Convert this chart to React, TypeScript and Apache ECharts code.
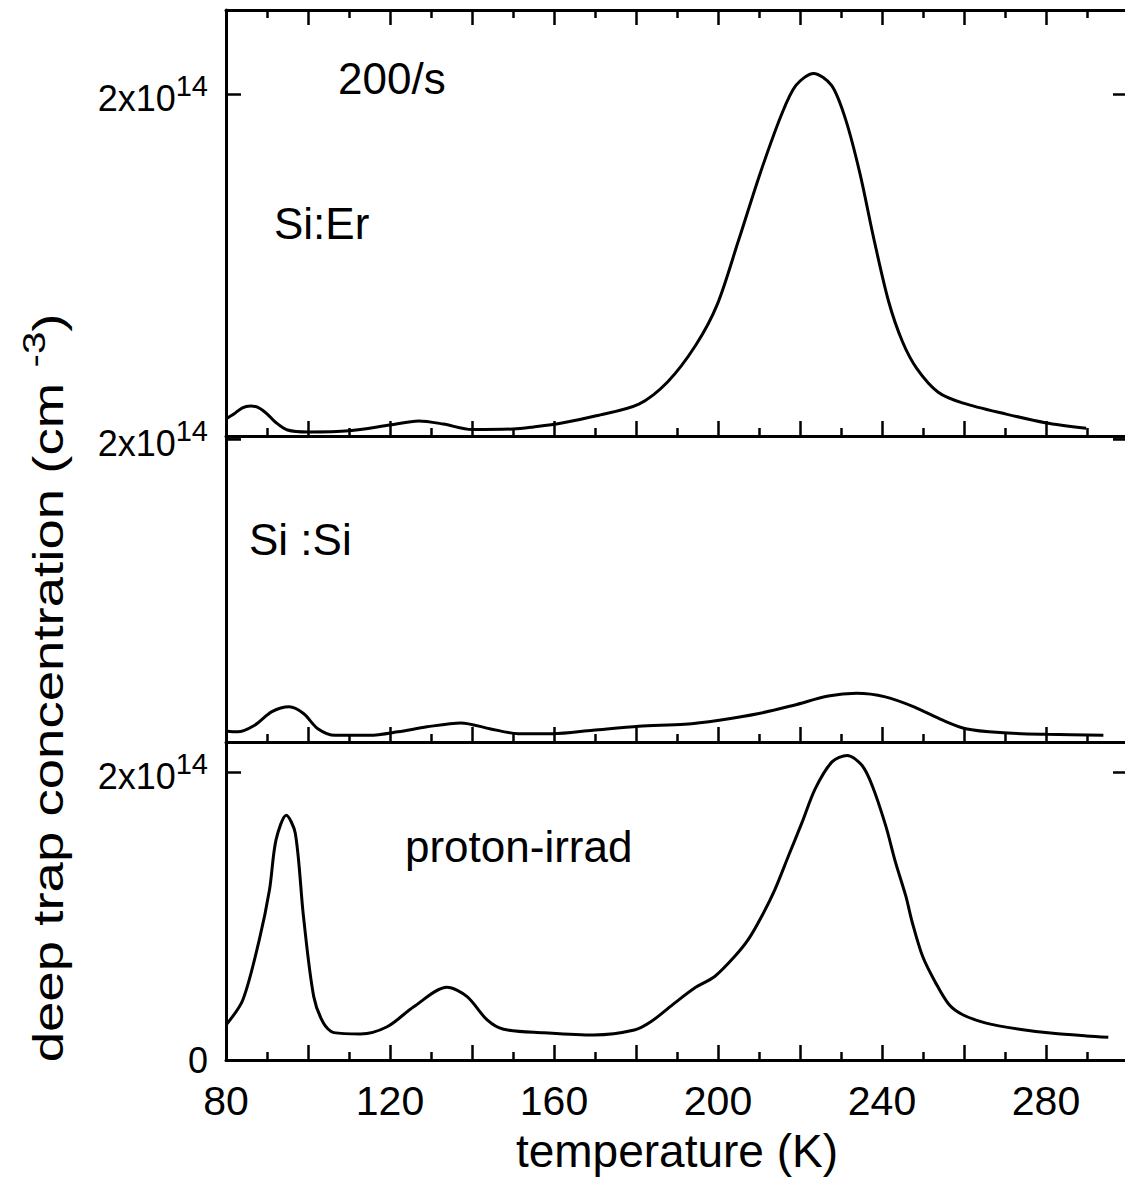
import React, { useEffect, useRef } from 'react';
import * as echarts from 'echarts';

const FONT = '"Liberation Sans", Arial, Helvetica, sans-serif';

// Si:Er panel (units of 1e14 cm^-3, panel-local scale)
const erT = [80, 82, 84, 86, 88, 90, 92, 95, 100, 110, 120, 127, 133, 140, 150, 155, 161.6, 170.3, 180.7, 187.7, 194.6, 199.8, 205, 210.3, 215.5, 219, 223.3, 227.7, 231.1, 234.6, 238.1, 241.6, 245, 248.5, 253.7, 259.8, 270.3, 279.8, 289.8];
const erV = [0.1, 0.13, 0.165, 0.175, 0.165, 0.13, 0.082, 0.035, 0.023, 0.03, 0.064, 0.088, 0.07, 0.038, 0.041, 0.053, 0.074, 0.118, 0.187, 0.316, 0.532, 0.768, 1.143, 1.537, 1.88, 2.05, 2.12, 2.05, 1.853, 1.537, 1.143, 0.788, 0.551, 0.394, 0.256, 0.192, 0.128, 0.078, 0.045];

// Si:Si panel
const siT = [80, 82.8, 87, 91.2, 95.4, 98.9, 102.4, 106.6, 115, 122, 129, 137.3, 144.3, 151.3, 159.7, 169.5, 180.7, 191.9, 200.3, 210, 218.5, 226.9, 233.8, 240.8, 247.8, 254.8, 260.4, 268.8, 280, 294];
const siV = [0.073, 0.067, 0.111, 0.2, 0.232, 0.188, 0.088, 0.044, 0.044, 0.067, 0.1, 0.126, 0.088, 0.055, 0.055, 0.078, 0.104, 0.117, 0.144, 0.188, 0.243, 0.303, 0.321, 0.298, 0.232, 0.144, 0.088, 0.062, 0.051, 0.045];

// proton-irradiated panel
const prT = [80, 84.1, 88.1, 90.6, 92.2, 94.7, 96.9, 98.9, 101.4, 103.8, 106.3, 112.8, 119.3, 125.8, 133.9, 138.8, 143.7, 147.7, 157.5, 169.7, 179.6, 183.7, 189.4, 194.3, 199.2, 204.1, 207.4, 210.7, 213.9, 217.2, 220.5, 223.7, 227.8, 231.5, 235.1, 237.6, 240.9, 243.3, 245.8, 247.4, 249.9, 253.1, 256.4, 259.7, 265.4, 273.5, 281.7, 289.9, 295.2];
const prV = [0.243, 0.417, 0.833, 1.18, 1.528, 1.7, 1.574, 0.995, 0.44, 0.255, 0.19, 0.181, 0.231, 0.37, 0.505, 0.44, 0.278, 0.213, 0.19, 0.174, 0.208, 0.267, 0.395, 0.5, 0.58, 0.72, 0.837, 1.0, 1.185, 1.418, 1.65, 1.883, 2.07, 2.115, 2.046, 1.906, 1.627, 1.372, 1.139, 0.953, 0.72, 0.535, 0.383, 0.314, 0.256, 0.214, 0.185, 0.167, 0.158];

const xTickLabels = [80, 120, 160, 200, 240, 280];
const panelLabels = ['Si:Er', 'Si :Si', 'proton-irrad'];
const rateLabel = '200/s';
const xTitle = 'temperature (K)';

const pairs = (t: number[], v: number[]) => t.map((x, i) => [x, v[i]]);

export default function App() {
  const ref = useRef<HTMLDivElement>(null);
  useEffect(() => {
    document.body.style.margin = '0';
    const chart = echarts.init(ref.current!, null, { renderer: 'svg' });
    // x: 80 K at px 226, 4.1 px per K -> 300 K at 1128 (just off-canvas)
    const g = { left: 226, width: 902, outerBoundsMode: 'none', containLabel: false };
    const grids = [
      { ...g, top: 10, height: 426 },
      { ...g, top: 437, height: 305 },
      { ...g, top: 742, height: 318 },
    ];
    const yMax = [2.491, 2.013, 2.208];
    const black = '#000';
    const tickStyle = { color: black, width: 2.5 };
    const lineStyle = { color: black, width: 3 };

    const xBase = (i: number, pos: 'top' | 'bottom', labels: boolean) => ({
      type: 'value',
      gridIndex: i,
      position: pos,
      min: 80,
      max: 300,
      interval: 20,
      axisLine: { show: true, onZero: false, lineStyle },
      axisTick: { show: true, inside: true, length: 15, lineStyle: tickStyle },
      minorTick: { show: true, splitNumber: 2, length: 8, lineStyle: tickStyle },
      splitLine: { show: false },
      minorSplitLine: { show: false },
      axisLabel: {
        show: labels,
        color: black,
        fontSize: 41,
        fontFamily: FONT,
        margin: 20,
        formatter: (v: number) => (xTickLabels.includes(v) ? String(v) : ''),
      },
      ...(labels
        ? {
            name: xTitle,
            nameLocation: 'middle',
            nameGap: 68,
            nameTextStyle: { color: black, fontSize: 46, fontFamily: FONT },
          }
        : {}),
    });

    const xAxis = [xBase(0, 'bottom', false), xBase(1, 'bottom', false), xBase(2, 'bottom', true), xBase(0, 'top', false)];

    const yAxis: any[] = [];
    for (let i = 0; i < 3; i++) {
      const common = {
        type: 'value',
        gridIndex: i,
        min: 0,
        max: yMax[i],
        interval: 2,
        axisTick: { show: true, inside: true, length: 15, lineStyle: tickStyle },
        splitLine: { show: false },
      };
      yAxis.push({
        ...common,
        position: 'left',
        axisLine: { show: true, onZero: false, lineStyle },
        axisLabel: {
          show: true,
          margin: 18,
          color: black,
          fontFamily: FONT,
          formatter: (v: number) => {
            if (Math.abs(v - 2) < 1e-9) return '{a|2x10}{b|14}';
            if (v === 0 && i === 2) return '{z|0}';
            return '';
          },
          rich: {
            a: { fontSize: 36, fontFamily: FONT, color: black, lineHeight: 45, verticalAlign: 'bottom' },
            b: { fontSize: 29, fontFamily: FONT, color: black, verticalAlign: 'top' },
            z: { fontSize: 36, fontFamily: FONT, color: black, lineHeight: 36 },
          },
        },
      });
      yAxis.push({ ...common, position: 'right', axisLine: { show: true, onZero: false, lineStyle }, axisLabel: { show: false } });
    }

    const datasets = [pairs(erT, erV), pairs(siT, siV), pairs(prT, prV)];
    const series = datasets.map((d, i) => ({
      type: 'line',
      xAxisIndex: i,
      yAxisIndex: i * 2,
      data: d,
      showSymbol: false,
      smooth: 0.3,
      lineStyle: { color: black, width: 3 },
      silent: true,
    }));

    const txt = (text: string, x: number, y: number, size = 44) => ({
      type: 'text',
      x,
      y,
      style: { text, fill: black, fontSize: size, fontFamily: FONT, align: 'left', verticalAlign: 'middle' },
    });

    chart.setOption({
      animation: false,
      backgroundColor: '#fff',
      grid: grids,
      xAxis,
      yAxis,
      series,
      graphic: [
        txt(rateLabel, 338, 78),
        txt(panelLabels[0], 274, 223),
        txt(panelLabels[1], 249, 539),
        txt(panelLabels[2], 405, 846),
        {
          type: 'text',
          x: 44,
          y: 688,
          rotation: Math.PI / 2,
          scaleX: 1.3,
          style: {
            text: '{a|deep trap concentration (cm }{b|-3}{a|)}',
            align: 'center',
            verticalAlign: 'middle',
            fill: black,
            rich: {
              a: { fontSize: 42, fontFamily: FONT, fill: black, color: black, lineHeight: 50, verticalAlign: 'bottom' },
              b: { fontSize: 31, fontFamily: FONT, fill: black, color: black, verticalAlign: 'top' },
            },
          },
        },
      ],
    });
    return () => chart.dispose();
  }, []);
  return <div ref={ref} style={{ width: 1125, height: 1185 }} />;
}
